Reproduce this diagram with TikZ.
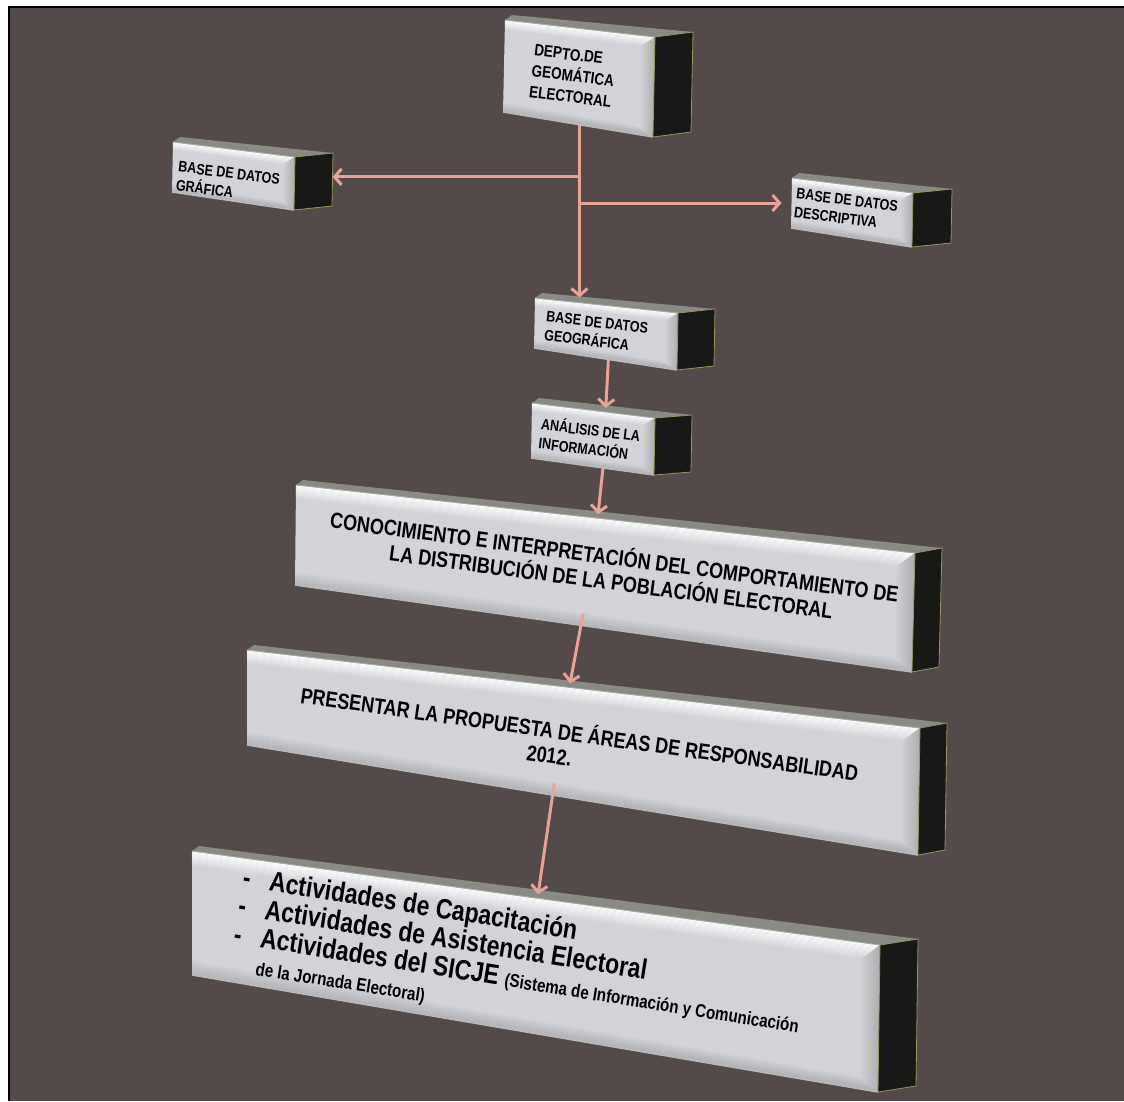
\documentclass[tikz,border=0pt]{standalone}
\usepackage{fontspec}
\newfontfamily\slabfont{Liberation Sans}[FakeStretch=0.82]
\usetikzlibrary{calc,arrows.meta}

\definecolor{backdrop}{RGB}{83,74,73}
\definecolor{slabgray}{RGB}{210,211,216}
\definecolor{slabtopgray}{RGB}{138,138,132}
\definecolor{slabdark}{RGB}{24,24,22}
\definecolor{slabedge}{RGB}{150,150,100}
\definecolor{linkpink}{RGB}{232,162,150}

\newcommand{\tagfont}{\slabfont\bfseries\fontsize{15.3}{19}\selectfont}
\newcommand{\headfont}{\slabfont\bfseries\fontsize{16.5}{21}\selectfont}
\newcommand{\bannerfont}{\slabfont\bfseries\fontsize{22}{25}\selectfont}
\newcommand{\listfont}{\slabfont\bfseries\fontsize{28}{28}\selectfont}
\newcommand{\notefont}{\slabfont\bfseries\fontsize{18.5}{28}\selectfont}

% #1 name, #2-#5 front corners (tl,tr,br,bl), #6 depth of the side, #7 bevel
\newcommand{\slab}[7]{%
  \coordinate (#1-tl) at #2;
  \coordinate (#1-tr) at #3;
  \coordinate (#1-br) at #4;
  \coordinate (#1-bl) at #5;
  \coordinate (#1-str) at ($(#1-tr)+#6$);
  \coordinate (#1-sbr) at ($(#1-br)+#6$);
  \fill[slabtop] (#1-tl) -- (#1-tr) -- (#1-str) -- ($(#1-tl)+(7,-5)$) -- cycle;
  \fill[slabface] (#1-tl) -- (#1-tr) -- (#1-br) -- (#1-bl) -- cycle;
  \foreach \k in {1,...,#7}{%
    \pgfmathsetmacro\fade{0.9*(1-(\k-1)/#7)}
    \draw[white, opacity=\fade, line width=1.1pt]
      ($(#1-tl)+(0,\k)$) -- ($(#1-tr)+(-\k,\k)$);
    \pgfmathsetmacro\fade{0.3*(1-(\k-1)/#7)}
    \draw[gray, opacity=\fade, line width=1.1pt]
      ($(#1-bl)+(0,-\k)$) -- ($(#1-br)+(-\k,-\k)$);
  }
  \shade[slabbevel] ($(#1-tr)+(-#7-5,#7)$) -- (#1-tr) -- (#1-br) -- ($(#1-br)+(-#7-5,-#7)$) -- cycle;
  \draw[slabrim] (#1-bl) -- (#1-br);
  \draw[slabseam] (#1-tl) -- (#1-tr);
  \filldraw[slabside] (#1-tr) -- (#1-str) -- (#1-sbr) -- (#1-br) -- cycle;
}

\tikzset{
  slabtop/.style={fill=slabtopgray},
  slabface/.style={fill=slabgray},
  slabbevel/.style={left color=slabgray, middle color=white, right color=gray!65},
  slabrim/.style={draw=gray!55, line width=1.5pt},
  slabseam/.style={draw=gray!70, line width=0.8pt},
  slabside/.style={fill=slabdark, draw=slabedge, line width=0.8pt},
  boxtext/.style={text=black, inner sep=0pt},
  link/.style={draw=linkpink, line width=3pt,
    -{Straight Barb[length=7pt,width=16pt,line width=3pt]}},
}

\begin{document}
\begin{tikzpicture}[x=1pt,y=-1pt]
 \useasboundingbox (0,0) rectangle (1124,1101);
 \fill[white] (0,0) rectangle (1124,1101);
 \fill[backdrop] (9,7) rectangle (1124,1101);
 \draw[black, line width=2.5pt] (9,1101) -- (9,7) -- (1124,7);

 % boxes
 \slab{depto}{(505,20)}{(655,37)}{(653,137)}{(503,112)}{(38,-5)}{9}
 \slab{grafica}{(173,142)}{(295,157)}{(294,210)}{(172,192)}{(38,-4)}{7}
 \slab{descriptiva}{(792,178)}{(913,193)}{(912,247)}{(791,228)}{(39,-4)}{7}
 \slab{geo}{(535,298)}{(678,313)}{(677,370)}{(534,348)}{(37,-4)}{7}
 \slab{analisis}{(532,403)}{(655,418)}{(654,475)}{(531,458)}{(37,-3)}{7}
 \slab{conoc}{(296,485)}{(915,553)}{(912,672)}{(295,585)}{(27,-5)}{13}
 \slab{presentar}{(247,650)}{(920,728)}{(918,855)}{(247,745)}{(27,-5)}{13}
 \slab{activ}{(192,851)}{(880,945)}{(878,1092)}{(192,975)}{(38,-6)}{14}

 % texts
 \node[boxtext, font=\headfont, anchor=north west, rotate=-7, align=left]
  (depto) at (535,44) {DEPTO.DE\\GEOMÁTICA\\ELECTORAL};
 \node[boxtext, font=\tagfont, anchor=north west, rotate=-7, align=left]
  (grafica) at (179,161) {BASE DE DATOS\\GRÁFICA};
 \node[boxtext, font=\tagfont, anchor=north west, rotate=-7, align=left]
  (descriptiva) at (797,188) {BASE DE DATOS\\DESCRIPTIVA};
 \node[boxtext, font=\tagfont, anchor=north west, rotate=-6.5, align=left]
  (geografica) at (547,311) {BASE DE DATOS\\GEOGRÁFICA};
 \node[boxtext, font=\tagfont, anchor=north west, rotate=-7, align=left]
  (analisis) at (542,416) {ANÁLISIS DE LA\\INFORMACIÓN};
 \node[boxtext, font=\bannerfont, rotate=-7.5, align=center]
  (conocimiento) at (613,568)
  {CONOCIMIENTO E INTERPRETACIÓN DEL COMPORTAMIENTO DE\\
   LA DISTRIBUCIÓN DE LA POBLACIÓN ELECTORAL};
 \node[boxtext, font=\bannerfont, rotate=-8, align=center]
  (propuesta) at (578,745)
  {PRESENTAR LA PROPUESTA DE ÁREAS DE RESPONSABILIDAD\\
   2012.\hspace*{54pt}};
 \node[boxtext, anchor=north west, rotate=-9] (actividades) at (245,866)
  {\listfont\begin{tabular}{@{}l@{\hspace{19pt}}l@{}}
   - & Actividades de Capacitación\\
   - & Actividades de Asistencia Electoral\\
   - & Actividades del SICJE {\notefont (Sistema de Información y Comunicación}\\
     & {\notefont de la Jornada Electoral)}
  \end{tabular}};

 % connectors
 \coordinate (depto-out) at ($(depto-bl)!0.51!(depto-br)$);
 \coordinate (geo-in) at ($(geo-tl)!0.30!(geo-tr)+(0,-5)$);
 \coordinate (grafica-in) at ($(grafica-str)!0.45!(grafica-sbr)$);
 \coordinate (descriptiva-in) at ($(descriptiva-tl)!0.5!(descriptiva-bl)+(-10,0)$);
 \coordinate (geo-out) at ($(geo-bl)!0.52!(geo-br)$);
 \coordinate (analisis-in) at ($(analisis-tl)!0.6!(analisis-tr)+(0,-4)$);
 \coordinate (analisis-out) at ($(analisis-bl)!0.585!(analisis-br)$);
 \coordinate (conoc-in) at ($(conoc-tl)!0.488!(conoc-tr)+(0,-4)$);
 \coordinate (conoc-out) at ($(conoc-bl)!0.467!(conoc-br)+(0,-12)$);
 \coordinate (presentar-in) at ($(presentar-tl)!0.48!(presentar-tr)+(0,-4)$);
 \coordinate (presentar-out) at ($(presentar-bl)!0.458!(presentar-br)+(0,-12)$);
 \coordinate (activ-in) at ($(activ-tl)!0.503!(activ-tr)+(0,-4)$);

 \draw[link] (depto-out) -- (depto-out |- geo-in);
 \draw[link] (depto-out |- grafica-in) -- (grafica-in);
 \draw[link] (depto-out |- descriptiva-in) -- (descriptiva-in);
 \draw[link] (geo-out) -- (analisis-in);
 \draw[link] (analisis-out) -- (conoc-in);
 \draw[link] (conoc-out) -- (presentar-in);
 \draw[link] (presentar-out) -- (activ-in);
\end{tikzpicture}
\end{document}
